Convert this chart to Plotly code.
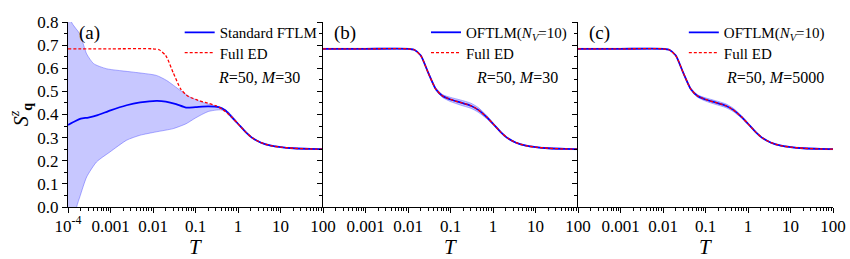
import plotly.graph_objects as go

# ---------------- data ----------------
T_ed = [1e-4, 0.001, 0.01, 0.014, 0.02, 0.03, 0.045, 0.065, 0.1, 0.17, 0.3, 0.45,
        0.7, 1.0, 1.5, 2.2, 3.5, 6, 10, 20, 50, 100]
S_ed = [0.684, 0.684, 0.684, 0.680, 0.655, 0.580, 0.510, 0.480, 0.465, 0.452, 0.438, 0.420,
        0.390, 0.360, 0.325, 0.298, 0.278, 0.265, 0.259, 0.254, 0.251, 0.250]

# panel (a): standard FTLM mean and spread
T_a = [1e-4, 1.5e-4, 2e-4, 3e-4, 5e-4, 1e-3, 2.4e-3, 5e-3, 0.012, 0.02, 0.035, 0.06,
       0.1, 0.2, 0.35, 0.5, 0.7, 1.0, 1.5, 2.2, 3.5, 6, 10, 20, 50, 100]
S_a = [0.355, 0.372, 0.382, 0.387, 0.397, 0.418, 0.440, 0.452, 0.459, 0.456, 0.445, 0.430,
       0.432, 0.435, 0.432, 0.418, 0.390, 0.360, 0.325, 0.298, 0.278, 0.265, 0.259, 0.254, 0.251, 0.250]

T_a_up = [1e-4, 1.2e-4, 1.9e-4, 2.75e-4, 4e-4, 8e-4, 3.5e-3, 0.012, 0.021, 0.044, 0.075,
          0.18, 0.38, 0.6, 0.8, 1.0, 1.5, 2.2, 3.5, 6, 10, 20, 50, 100]
S_a_up = [0.90, 0.800, 0.748, 0.662, 0.620, 0.598, 0.583, 0.569, 0.547, 0.504, 0.475,
          0.447, 0.432, 0.410, 0.385, 0.362, 0.327, 0.300, 0.280, 0.267, 0.260, 0.255, 0.252, 0.251]

T_a_lo = [1e-4, 1.6e-4, 1.9e-4, 2.75e-4, 4.7e-4, 9.7e-4, 2.4e-3, 4.9e-3, 0.012, 0.03, 0.06,
          0.1, 0.2, 0.4, 0.6, 0.8, 1.0, 1.5, 2.2, 3.5, 6, 10, 20, 50, 100]
S_a_lo = [-0.30, 0.000, 0.044, 0.130, 0.195, 0.238, 0.289, 0.310, 0.325, 0.339, 0.360,
          0.385, 0.413, 0.420, 0.405, 0.383, 0.358, 0.323, 0.296, 0.276, 0.263, 0.258, 0.253, 0.250, 0.249]

# panels (b), (c): OFTLM spread half-width along the ED grid
W_b = [0.002, 0.002, 0.002, 0.002, 0.002, 0.003, 0.004, 0.006, 0.009, 0.011, 0.011, 0.010,
       0.007, 0.004, 0.003, 0.002, 0.002, 0.002, 0.002, 0.002, 0.002, 0.002]
W_c = [0.002, 0.002, 0.002, 0.002, 0.002, 0.002, 0.003, 0.005, 0.007, 0.008, 0.008, 0.007,
       0.005, 0.003, 0.002, 0.002, 0.002, 0.002, 0.002, 0.002, 0.002, 0.002]

xtick_vals = [1e-4, 1e-3, 1e-2, 0.1, 1, 10, 100]
xtick_text_a = ["10<sup>-4</sup>", "0.001", "0.01", "0.1", "1", "10", "100"]
xtick_text_bc = ["", "0.001", "0.01", "0.1", "1", "10", "100"]

legend_names = [("Standard FTLM", "Full ED"),
                ("OFTLM(<i>N</i><sub><i>V</i></sub>=10)", "Full ED"),
                ("OFTLM(<i>N</i><sub><i>V</i></sub>=10)", "Full ED")]
panel_labels = ["(a)", "(b)", "(c)"]
param_labels = ["<i>R</i>=50, <i>M</i>=30", "<i>R</i>=50, <i>M</i>=30", "<i>R</i>=50, <i>M</i>=5000"]

# ---------------- styling ----------------
FONT = "Liberation Serif"
BLUE = "#0000ff"
RED = "#ff0000"
FILL = "rgba(0,0,255,0.22)"
EDGE = "rgba(70,70,255,0.55)"

fig = go.Figure()

def band(xu, yu, xl, yl, xa, ya):
    fig.add_trace(go.Scatter(x=xu, y=yu, mode="lines", line=dict(color=EDGE, width=0.8, shape="spline", smoothing=0.6),
                             showlegend=False, xaxis=xa, yaxis=ya, hoverinfo="skip"))
    fig.add_trace(go.Scatter(x=xl, y=yl, mode="lines", line=dict(color=EDGE, width=0.8, shape="spline", smoothing=0.6),
                             fill="tonexty", fillcolor=FILL,
                             showlegend=False, xaxis=xa, yaxis=ya, hoverinfo="skip"))

axes = [("x", "y"), ("x2", "y2"), ("x3", "y3")]

for i, (xa, ya) in enumerate(axes):
    if i == 0:
        band(T_a_up, S_a_up, T_a_lo, S_a_lo, xa, ya)
        xb, yb = T_a, S_a
    else:
        W = W_b if i == 1 else W_c
        up = [s + w for s, w in zip(S_ed, W)]
        lo = [s - w for s, w in zip(S_ed, W)]
        band(T_ed, up, T_ed, lo, xa, ya)
        xb, yb = T_ed, S_ed
    lg_m = "legend" if i == 0 else "legend%d" % (2 * i + 1)
    lg_e = "legend%d" % (2 * i + 2)
    fig.add_trace(go.Scatter(x=xb, y=yb, mode="lines", name=legend_names[i][0],
                             line=dict(color=BLUE, width=1.8, shape="spline", smoothing=0.6),
                             xaxis=xa, yaxis=ya, legend=lg_m))
    fig.add_trace(go.Scatter(x=T_ed, y=S_ed, mode="lines", name=legend_names[i][1],
                             line=dict(color=RED, width=1.3, dash="3px,2px", shape="spline", smoothing=0.6),
                             xaxis=xa, yaxis=ya, legend=lg_e))

domains = [[0, 1/3], [1/3, 2/3], [2/3, 1]]
layout = dict(
    width=850, height=259,
    margin=dict(l=68, r=17, t=22, b=52, autoexpand=False),
    paper_bgcolor="white", plot_bgcolor="white",
    font=dict(family=FONT, size=17, color="black"),
    showlegend=True,
)
for i in range(3):
    sfx = "" if i == 0 else str(i + 1)
    layout["xaxis" + sfx] = dict(
        type="log", range=[-4, 2], domain=domains[i], anchor="y" + sfx,
        showline=True, linecolor="black", linewidth=1.3, mirror=False,
        ticks="outside", ticklen=5, tickwidth=1.1, tickcolor="black",
        tickvals=xtick_vals, ticktext=xtick_text_a if i == 0 else xtick_text_bc,
        tickfont=dict(size=17, family=FONT), ticklabelstandoff=-2,
        minor=dict(ticks="outside", ticklen=3, tickwidth=1, tickcolor="black", dtick="D1", showgrid=False),
        showgrid=False, zeroline=False, automargin=False,
    )
    layout["yaxis" + sfx] = dict(
        range=[0, 0.8], domain=[0, 1], anchor="x" + sfx,
        showline=True, linecolor="black", linewidth=1.3, mirror=False,
        ticks="outside", ticklen=5, tickwidth=1.1, tickcolor="black",
        dtick=0.1, tickformat=".1f", showticklabels=(i == 0),
        tickfont=dict(size=17, family=FONT),
        minor=dict(ticks="outside", ticklen=3, tickwidth=1, tickcolor="black", dtick=0.05, showgrid=False),
        showgrid=False, zeroline=False, automargin=False,
    )
layout["yaxis"]["title"] = dict(text="<i>S</i><sup><i>z</i></sup><sub><b>q</b></sub>",
                                font=dict(size=20, family=FONT), standoff=3)

# one single-entry legend per line so that rows sit where the reference puts them
leg_x = [0.146, 0.468, 0.805]
row_y = [0.943, 0.833]
for i in range(3):
    for r in range(2):
        k = 2 * i + r + 1
        name = "legend" if k == 1 else "legend%d" % k
        layout[name] = dict(x=leg_x[i], y=row_y[r], xanchor="left", yanchor="middle",
                            bgcolor="rgba(0,0,0,0)", borderwidth=0,
                            font=dict(size=15, family=FONT), itemwidth=30)

fig.update_layout(**layout)

for i in range(3):
    sfx = "" if i == 0 else str(i + 1)
    fig.add_annotation(text=panel_labels[i], xref="x%s domain" % sfx, yref="y%s domain" % sfx,
                       x=0.035, y=0.943, xanchor="left", yanchor="middle", showarrow=False,
                       font=dict(size=19, family=FONT))
    fig.add_annotation(text=param_labels[i], xref="x%s domain" % sfx, yref="y%s domain" % sfx,
                       x=[0.58, 0.591, 0.572][i], y=0.70, xanchor="left", yanchor="middle", showarrow=False,
                       font=dict(size=16, family=FONT))
    fig.add_annotation(text="<i>T</i>", xref="x%s domain" % sfx, yref="y%s domain" % sfx,
                       x=0.5, y=-0.215, xanchor="center", yanchor="middle", showarrow=False,
                       font=dict(size=21, family=FONT))

fig.write_html("out.html", config={"displayModeBar": False},
               post_script="document.body.style.margin='0px';")
